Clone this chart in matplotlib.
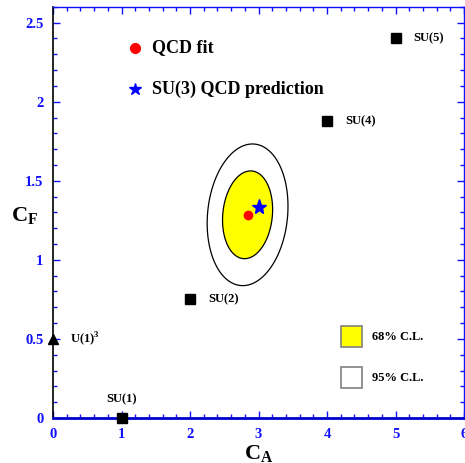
import numpy as np
import matplotlib
matplotlib.use('Agg')
import matplotlib.pyplot as plt
from matplotlib.patches import Polygon, Rectangle
from matplotlib.ticker import MultipleLocator

# group theory points (C_A, C_F)
groups = ['SU(1)', 'SU(2)', 'SU(4)', 'SU(5)']
group_ca = [1, 2, 4, 5]
group_cf = [0, 0.75, 1.875, 2.4]
u1_ca, u1_cf = 0, 0.5

# fit result and prediction
fit_ca, fit_cf = 2.84, 1.285
sig_ca, sig_cf, rho = 0.241, 0.183, 0.12
pred_ca, pred_cf = 3, 4 / 3
chi2_levels = [2.30, 5.99]  # 68% and 95% for 2 parameters

BLUE = '#1010ff'
plt.rcParams['font.family'] = 'Liberation Serif'
plt.rcParams['font.weight'] = 'bold'
plt.rcParams['mathtext.fontset'] = 'custom'
plt.rcParams['mathtext.rm'] = 'Liberation Serif:bold'
plt.rcParams['mathtext.bf'] = 'Liberation Serif:bold'


def ellipse_points(dchi2, n=200):
    cov = np.array([[sig_ca ** 2, rho * sig_ca * sig_cf],
                    [rho * sig_ca * sig_cf, sig_cf ** 2]])
    vals, vecs = np.linalg.eigh(cov)
    t = np.linspace(0, 2 * np.pi, n)
    circ = np.vstack([np.cos(t), np.sin(t)])
    pts = vecs @ (np.sqrt(vals * dchi2)[:, None] * circ)
    return np.column_stack([pts[0] + fit_ca, pts[1] + fit_cf])


fig = plt.figure(figsize=(4.65, 4.63), dpi=100)
ax = fig.add_axes([0.114, 0.0972, 0.884, 0.888])

# contours
ax.add_patch(Polygon(ellipse_points(chi2_levels[1]), closed=True, facecolor='white',
                     edgecolor='black', lw=0.9, zorder=2))
ax.add_patch(Polygon(ellipse_points(chi2_levels[0]), closed=True, facecolor='yellow',
                     edgecolor='black', lw=0.9, zorder=3))
ax.plot(fit_ca, fit_cf, 'o', color='red', ms=6, zorder=5)
ax.plot(pred_ca, pred_cf, '*', color='blue', ms=11, zorder=6)

# group points
ax.plot(group_ca, group_cf, 's', color='black', ms=7, zorder=6, clip_on=False)
ax.plot(u1_ca, u1_cf, '^', color='black', ms=7, zorder=6, clip_on=False)
for name, x, y in zip(groups, group_ca, group_cf):
    if name == 'SU(1)':
        ax.text(x, y + 0.08, name, ha='center', va='bottom', fontsize=9, weight='bold')
    else:
        ax.text(x + 0.26, y, name, ha='left', va='center', fontsize=9, weight='bold')
ax.text(u1_ca + 0.25, u1_cf, r'U(1)$^\mathbf{3}$', ha='left', va='center', fontsize=9,
        weight='bold')

# in-plot legend for points
ax.plot(1.2, 2.34, 'o', color='red', ms=7)
ax.text(1.45, 2.34, 'QCD fit', ha='left', va='center', fontsize=13, weight='bold')
ax.plot(1.2, 2.08, '*', color='blue', ms=9)
ax.text(1.45, 2.08, 'SU(3) QCD prediction', ha='left', va='center', fontsize=13,
        weight='bold')

# legend boxes for contours
ax.add_patch(Rectangle((4.2, 0.45), 0.31, 0.13, facecolor='yellow', edgecolor='gray',
                       lw=1.2, zorder=4))
ax.text(4.66, 0.515, '68% C.L.', ha='left', va='center', fontsize=9, weight='bold')
ax.add_patch(Rectangle((4.2, 0.19), 0.31, 0.13, facecolor='white', edgecolor='gray',
                       lw=1.2, zorder=4))
ax.text(4.66, 0.255, '95% C.L.', ha='left', va='center', fontsize=9, weight='bold')

ax.set_xlim(0, 6)
ax.set_ylim(0, 2.6)
ax.xaxis.set_major_locator(MultipleLocator(1))
ax.xaxis.set_minor_locator(MultipleLocator(0.2))
ax.yaxis.set_major_locator(MultipleLocator(0.5))
ax.yaxis.set_minor_locator(MultipleLocator(0.1))
ax.yaxis.set_major_formatter(matplotlib.ticker.FuncFormatter(lambda v, p: f'{v:g}'))
ax.tick_params(which='both', direction='in', top=True, right=True, color=BLUE,
               labelcolor=BLUE, labelsize=10.5)
ax.tick_params(which='major', length=5, width=1, pad=7)
ax.tick_params(which='minor', length=3, width=1)
for lab in ax.get_xticklabels() + ax.get_yticklabels():
    lab.set_fontweight('bold')

for side in ['top', 'right']:
    ax.spines[side].set_color(BLUE)
    ax.spines[side].set_linewidth(1)
ax.spines['bottom'].set_color('#0000cc')
ax.spines['bottom'].set_linewidth(2)
ax.spines['left'].set_color('black')
ax.spines['left'].set_linestyle((0, (1, 1)))
ax.spines['left'].set_linewidth(1.2)

ax.set_xlabel(r'C$_\mathbf{A}$', fontsize=16, weight='bold', va='center')
ax.set_ylabel(r'C$_\mathbf{F}$', fontsize=16, weight='bold', rotation=0,
              va='center', ha='center')
ax.xaxis.set_label_coords(0.5, -0.088)
ax.yaxis.set_label_coords(-0.07, 0.49)

fig.savefig('out.png', dpi=100)
